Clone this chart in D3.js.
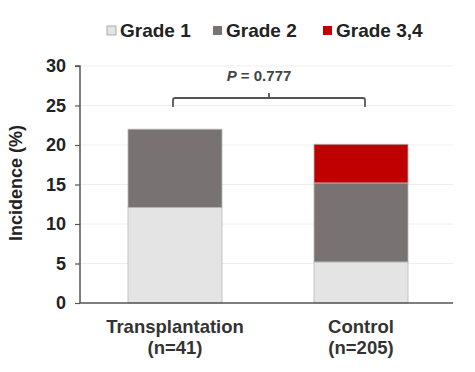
<!DOCTYPE html>
<html><head><meta charset="utf-8">
<script src="https://cdn.jsdelivr.net/npm/d3@7"></script>
<style>body{margin:0;background:#fff}svg{display:block}text{font-family:"Liberation Sans",Arial,sans-serif}</style>
</head><body><svg id="c" width="475" height="372"></svg>
<script>
const categories = ["Transplantation|(n=41)", "Control|(n=205)"];
const seriesNames = ["Grade 1", "Grade 2", "Grade 3,4"];
const grade1 = [12.1, 5.2];
const grade2 = [9.9, 10.0];
const grade34 = [0, 4.9];
const yTicks = [0, 5, 10, 15, 20, 25, 30];
const pLabel = "0.777";
const colors = ["#e4e4e4", "#787272", "#c00000"];

const svg = d3.select("#c");
const x0 = 80, x1 = 453, yTop = 66, yBot = 303;
const y = d3.scaleLinear().domain([0, 30]).range([yBot, yTop]);
const bw = 94;

// gridlines
svg.append("g").selectAll("line").data(yTicks.filter(d => d > 0)).join("line")
  .attr("x1", x0).attr("x2", x1).attr("y1", d => y(d)).attr("y2", d => y(d))
  .attr("stroke", "#eeeeee").attr("stroke-width", 1);

const table = categories.map((c, i) => ({cat: c, g1: grade1[i], g2: grade2[i], g3: grade34[i]}));
const stack = d3.stack().keys(["g1", "g2", "g3"])(table);
const x = d3.scalePoint().domain(categories).range([175, 361]);
const cx = c => x(c);

svg.append("g").selectAll("g").data(stack).join("g")
  .attr("fill", (d, i) => colors[i])
  .selectAll("rect").data(d => d.filter(s => s[1] - s[0] > 0)).join("rect")
  .attr("x", d => cx(d.data.cat) - bw / 2).attr("width", bw)
  .attr("y", d => y(d[1])).attr("height", d => y(d[0]) - y(d[1]))
  .attr("stroke", "#b8b8b8").attr("stroke-width", 0.8);

// y axis
const ya = svg.append("g").attr("transform", `translate(${x0},0)`)
  .call(d3.axisLeft(y).tickValues(yTicks).tickSize(5).tickPadding(9));
ya.select(".domain").attr("stroke", "#555").attr("stroke-width", 1.5).attr("d", `M-5,${yTop}H0V${yBot}`);
ya.selectAll(".tick line").attr("stroke", "#555").attr("stroke-width", 1.2);
ya.selectAll(".tick text").attr("font-size", 18).attr("font-weight", "bold").attr("fill", "#222");

// x axis line
svg.append("line").attr("x1", x0).attr("x2", x1).attr("y1", yBot).attr("y2", yBot)
  .attr("stroke", "#555").attr("stroke-width", 1.5);

// x labels
const xl = svg.append("g").selectAll("text").data(categories).join("text")
  .attr("x", d => cx(d)).attr("text-anchor", "middle")
  .attr("font-size", 18.5).attr("font-weight", "bold").attr("fill", "#333");
xl.append("tspan").attr("x", d => cx(d)).attr("y", 333).text(d => d.split("|")[0]);
xl.append("tspan").attr("x", d => cx(d)).attr("y", 354).text(d => d.split("|")[1]);

// y label
svg.append("text").attr("transform", "translate(22,183) rotate(-90)").attr("text-anchor", "middle")
  .attr("font-size", 18).attr("font-weight", "bold").attr("fill", "#222").text("Incidence (%)");

// bracket
const bl = 173, br = 365, by = 98, bEnd = 107, bm = 269;
svg.append("path").attr("d", `M${bl},${bEnd}V${by + 2}Q${bl},${by} ${bl + 2},${by}H${br - 2}Q${br},${by} ${br},${by + 2}V${bEnd}M${bm},${by}V${by - 5}`)
  .attr("fill", "none").attr("stroke", "#555").attr("stroke-width", 1.8);
const pt = svg.append("text").attr("x", 259).attr("y", 81).attr("text-anchor", "middle")
  .attr("font-size", 15).attr("font-weight", "bold").attr("fill", "#444");
pt.append("tspan").attr("font-style", "italic").text("P");
pt.append("tspan").text(" = " + pLabel);

// legend
const lx = [107, 213, 323];
const lg = svg.append("g").selectAll("g").data(seriesNames).join("g")
  .attr("transform", (d, i) => `translate(${lx[i]},0)`);
lg.append("rect").attr("x", 0).attr("y", 26).attr("width", 9).attr("height", 9)
  .attr("fill", (d, i) => colors[i]).attr("stroke", (d, i) => i === 0 ? "#999" : "none").attr("stroke-width", 0.8);
lg.append("text").attr("x", 13).attr("y", 37).attr("font-size", 19).attr("font-weight", "bold")
  .attr("fill", "#222").text(d => d);
</script></body></html>
